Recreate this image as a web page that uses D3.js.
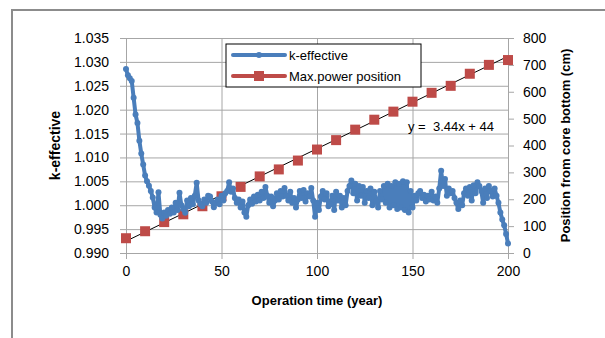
<!DOCTYPE html>
<html>
<head>
<meta charset="utf-8">
<script src="https://cdn.jsdelivr.net/npm/d3@7"></script>
<style>
  body { margin: 0; background: #fff; }
  svg { display: block; font-family: "Liberation Sans", Arial, sans-serif; }
</style>
</head>
<body>
<div id="chart"></div>
<script>
// k-effective, one value per year (0..200)
const kYears = d3.range(0, 201);
const kEff = [
  1.0285, 1.0272, 1.0266, 1.0260, 1.0225, 1.0190, 1.0172, 1.0135, 1.0108, 1.0085,
  1.0062, 1.0050, 1.0041, 1.0030, 1.0016, 0.9995, 0.9985, 1.0027, 0.9980, 0.9972,
  0.9985, 0.9978, 0.9990, 0.9982, 0.9995, 0.9985, 1.0005, 0.9990, 1.0026, 1.0000,
  0.9992, 0.9984, 1.0010, 0.9998, 1.0015, 1.0002, 1.0020, 1.0047, 1.0010, 1.0002,
  0.9998, 1.0012, 1.0005, 1.0020, 1.0018, 1.0008, 0.9996, 1.0005, 1.0012, 1.0002,
  1.0020, 1.0010, 1.0025, 1.0030, 1.0048, 1.0028, 1.0035, 1.0015, 1.0005, 1.0012,
  0.9995, 1.0008, 0.9985, 0.9976, 1.0000, 1.0012, 1.0003, 1.0018, 1.0008, 1.0022,
  1.0010, 1.0028, 1.0015, 1.0038, 1.0020, 1.0005, 1.0018, 0.9998, 1.0010, 1.0025,
  1.0012, 1.0030, 1.0018, 1.0036, 1.0020, 1.0010, 1.0028, 1.0005, 1.0015, 0.9995,
  1.0012, 1.0030, 1.0015, 1.0032, 1.0008, 1.0025, 1.0018, 1.0036, 1.0010, 0.9976,
  1.0005, 0.9990, 1.0018, 1.0030, 1.0012, 1.0025, 0.9998, 1.0002, 1.0020, 0.9990,
  1.0028, 1.0010, 1.0020, 0.9995, 1.0015, 1.0000, 1.0030, 1.0040, 1.0052, 1.0025,
  1.0045, 1.0010, 1.0040, 1.0020, 1.0038, 1.0005, 1.0030, 1.0015, 1.0035, 1.0000,
  1.0028, 1.0008, 0.9995, 1.0030, 1.0012, 1.0040, 1.0005, 1.0045, 0.9995, 1.0040,
  1.0000, 1.0048, 0.9992, 1.0045, 0.9995, 1.0050, 0.9990, 1.0048, 0.9985, 1.0030,
  0.9995, 1.0020, 1.0010, 1.0025, 1.0030, 1.0015, 1.0022, 1.0008, 1.0020, 1.0012,
  1.0028, 1.0010, 1.0018, 1.0005, 1.0035, 1.0072, 1.0040, 1.0055, 1.0020, 1.0035,
  1.0025, 1.0030, 1.0015, 1.0005, 0.9992, 1.0010, 1.0000, 1.0025, 1.0035, 1.0020,
  1.0038, 1.0010, 1.0042, 1.0025, 1.0048, 1.0040, 1.0030, 1.0005, 1.0035, 1.0015,
  1.0040, 1.0030, 1.0018, 1.0035, 1.0020, 1.0005, 0.9985, 0.9970, 0.9958, 0.9940,
  0.9920
];

// max power position (cm), every 10 years
const posYears = d3.range(0, 201, 10);
const maxPos = [55, 81, 115, 144, 174, 211, 246, 285, 311, 344, 385,
                420, 459, 496, 526, 563, 596, 622, 667, 700, 718];

// linear trend shown on the chart
const trendSlope = 3.44, trendIntercept = 44;

const xTicks = [0, 50, 100, 150, 200];
const kTicks = d3.range(0.990, 1.0351, 0.005);
const posTicks = d3.range(0, 801, 100);

const width = 605, height = 338;
const margin = { top: 38, right: 97, bottom: 85, left: 126 };
const plotW = width - margin.left - margin.right;
const plotH = height - margin.top - margin.bottom;

const blue = "#4a7ebb", red = "#be4b48", gridCol = "#a6a6a6";

const svg = d3.select("#chart").append("svg")
    .attr("width", width)
    .attr("height", height);

// outer chart border (runs off the picture at right/bottom)
svg.append("rect")
    .attr("x", 12).attr("y", 10)
    .attr("width", 620).attr("height", 360)
    .attr("fill", "none")
    .attr("stroke", "#8c8c8c")
    .attr("stroke-width", 2);

const x = d3.scaleLinear().domain([0, 200]).range([0, plotW]);
const yK = d3.scaleLinear().domain([0.990, 1.035]).range([plotH, 0]);
const yP = d3.scaleLinear().domain([0, 800]).range([plotH, 0]);

const g = svg.append("g")
    .attr("transform", `translate(${margin.left},${margin.top})`);

// horizontal grid
g.append("g")
    .call(d3.axisLeft(yK).tickValues(kTicks).tickSize(-plotW).tickFormat(""))
    .call(a => a.select(".domain").remove())
    .selectAll("line").attr("stroke", gridCol);

// vertical grid
g.append("g")
    .attr("transform", `translate(0,${plotH})`)
    .call(d3.axisBottom(x).tickValues(xTicks).tickSize(-plotH).tickFormat(""))
    .call(a => a.select(".domain").remove())
    .selectAll("line").attr("stroke", gridCol);

// left axis
g.append("g")
    .call(d3.axisLeft(yK).tickValues(kTicks).tickSize(6).tickPadding(11)
        .tickFormat(d3.format(".3f")))
    .call(a => a.select(".domain").attr("stroke", gridCol))
    .call(a => a.selectAll("line").attr("stroke", gridCol))
    .selectAll("text").attr("font-size", 14).attr("fill", "#000")
    .attr("font-family", "Liberation Sans, Arial, sans-serif");

// right axis
g.append("g")
    .attr("transform", `translate(${plotW},0)`)
    .call(d3.axisRight(yP).tickValues(posTicks).tickSize(6).tickPadding(9))
    .call(a => a.select(".domain").attr("stroke", gridCol))
    .call(a => a.selectAll("line").attr("stroke", gridCol))
    .selectAll("text").attr("font-size", 14).attr("fill", "#000")
    .attr("font-family", "Liberation Sans, Arial, sans-serif");

// bottom axis
g.append("g")
    .attr("transform", `translate(0,${plotH})`)
    .call(d3.axisBottom(x).tickValues(xTicks).tickSize(6).tickPadding(7))
    .call(a => a.select(".domain").attr("stroke", gridCol))
    .call(a => a.selectAll("line").attr("stroke", gridCol))
    .selectAll("text").attr("font-size", 14).attr("fill", "#000")
    .attr("font-family", "Liberation Sans, Arial, sans-serif");

// trend line
g.append("line")
    .attr("x1", x(0)).attr("y1", yP(trendIntercept))
    .attr("x2", x(200)).attr("y2", yP(trendIntercept + trendSlope * 200))
    .attr("stroke", "#000")
    .attr("stroke-width", 1);

// max power position series (markers only on the plot)
const posData = posYears.map((d, i) => [d, maxPos[i]]);
g.selectAll("rect.pos")
    .data(posData)
    .enter().append("rect")
    .attr("class", "pos")
    .attr("x", d => x(d[0]) - 5)
    .attr("y", d => yP(d[1]) - 5)
    .attr("width", 10).attr("height", 10)
    .attr("fill", red);

// k-effective series
const kData = kYears.map((d, i) => [d, kEff[i]]);
g.append("path")
    .datum(kData)
    .attr("fill", "none")
    .attr("stroke", blue)
    .attr("stroke-width", 4)
    .attr("stroke-linejoin", "round")
    .attr("d", d3.line().x(d => x(d[0])).y(d => yK(d[1])));

g.selectAll("circle.k")
    .data(kData)
    .enter().append("circle")
    .attr("class", "k")
    .attr("cx", d => x(d[0]))
    .attr("cy", d => yK(d[1]))
    .attr("r", 3)
    .attr("fill", blue);

// trend equation
g.append("text")
    .attr("x", 282).attr("y", 93)
    .style("white-space", "pre")
    .attr("font-size", 13)
    .text("y =  3.44x + 44");

// legend
const leg = svg.append("g").attr("transform", "translate(226,44)");
leg.append("rect")
    .attr("width", 195).attr("height", 43)
    .attr("fill", "#fff")
    .attr("stroke", "#000")
    .attr("stroke-width", 1);

leg.append("line")
    .attr("x1", 7).attr("x2", 59).attr("y1", 11).attr("y2", 11)
    .attr("stroke", blue).attr("stroke-width", 4).attr("stroke-linecap", "round");
leg.append("circle")
    .attr("cx", 33).attr("cy", 11).attr("r", 3).attr("fill", blue);
leg.append("text")
    .attr("x", 63).attr("y", 15.5)
    .attr("font-size", 13)
    .text("k-effective");

leg.append("line")
    .attr("x1", 7).attr("x2", 59).attr("y1", 32).attr("y2", 32)
    .attr("stroke", red).attr("stroke-width", 4).attr("stroke-linecap", "round");
leg.append("rect")
    .attr("x", 28).attr("y", 27).attr("width", 10).attr("height", 10)
    .attr("fill", red);
leg.append("text")
    .attr("x", 63).attr("y", 36.5)
    .attr("font-size", 13)
    .text("Max.power position");

// axis titles
svg.append("text")
    .attr("transform", `translate(60,${margin.top + plotH / 2}) rotate(-90)`)
    .attr("text-anchor", "middle")
    .attr("font-size", 14)
    .attr("font-weight", "bold")
    .text("k-effective");

svg.append("text")
    .attr("transform", `translate(570,${margin.top + plotH / 2}) rotate(-90)`)
    .attr("text-anchor", "middle")
    .attr("font-size", 13)
    .attr("font-weight", "bold")
    .text("Position from core bottom (cm)");

svg.append("text")
    .attr("x", margin.left + plotW / 2)
    .attr("y", 305)
    .attr("text-anchor", "middle")
    .attr("font-size", 13)
    .attr("font-weight", "bold")
    .text("Operation time (year)");
</script>
</body>
</html>
